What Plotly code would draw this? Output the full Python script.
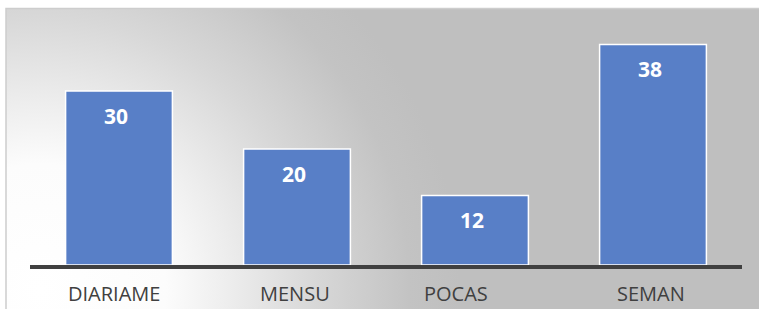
import base64
import plotly.graph_objects as go

categories = ["DIARIAME", "MENSU", "POCAS", "SEMAN"]
values = [30, 20, 12, 38]
# small horizontal nudges (px) of the category labels, as in the reference
label_nudge = [-5, -2, -19, -2]

W, H = 759, 309
BW, BH = 820, 340  # background drawn a little larger than the figure

svg = f'''<svg xmlns="http://www.w3.org/2000/svg" width="{BW}" height="{BH}">
<defs>
<radialGradient id="g" gradientUnits="userSpaceOnUse" cx="40" cy="290" r="420" fx="40" fy="290">
<stop offset="0" stop-color="#ffffff"/>
<stop offset="0.3" stop-color="#fcfcfc"/>
<stop offset="0.45" stop-color="#ededed"/>
<stop offset="0.65" stop-color="#d8d8d8"/>
<stop offset="0.88" stop-color="#c3c3c3"/>
<stop offset="1" stop-color="#bfbfbf"/>
</radialGradient>
</defs>
<rect x="0" y="0" width="{BW}" height="{BH}" fill="#ffffff"/>
<rect x="6" y="8.5" width="{BW}" height="{BH}" fill="url(#g)" stroke="#cdcdcd" stroke-width="1.5"/>
</svg>'''
src = "data:image/svg+xml;base64," + base64.b64encode(svg.encode()).decode()

fig = go.Figure()
fig.add_trace(go.Bar(
    x=categories, y=values,
    marker=dict(color="#587fc7", line=dict(color="#ffffff", width=1.5)),
    hoverinfo="skip",
))

for c, v in zip(categories, values):
    fig.add_annotation(x=c, y=v, text=f"<b>{v}</b>", showarrow=False,
                       yshift=-24.5, xshift=-3,
                       font=dict(family="Open Sans", size=21, color="#ffffff"))

for c, dx in zip(categories, label_nudge):
    fig.add_annotation(x=c, y=0, text=c, showarrow=False,
                       yshift=-28, xshift=dx,
                       font=dict(family="Open Sans", size=20, color="#404040"))

fig.update_layout(
    width=W, height=H,
    margin=dict(l=0, r=0, t=0, b=0),
    paper_bgcolor="rgba(0,0,0,0)",
    plot_bgcolor="rgba(0,0,0,0)",
    bargap=0.4,
    showlegend=False,
    images=[dict(source=src, xref="paper", yref="paper", x=0, y=1,
                 sizex=BW / W, sizey=BH / H, xanchor="left", yanchor="top",
                 sizing="stretch", layer="below")],
    xaxis=dict(domain=[30 / W, 742 / W], showline=True, linewidth=4, linecolor="#404040",
               showgrid=False, zeroline=False, showticklabels=False, ticks=""),
    yaxis=dict(domain=[44 / H, 301 / H], range=[0, 257 / 5.8], visible=False,
               showgrid=False, zeroline=False),
)

fig.write_html("out.html", config={"displayModeBar": False},
               post_script=("document.documentElement.style.overflow='hidden';"
                            "document.body.style.margin='0';"
                            "document.body.style.overflow='hidden';"))
